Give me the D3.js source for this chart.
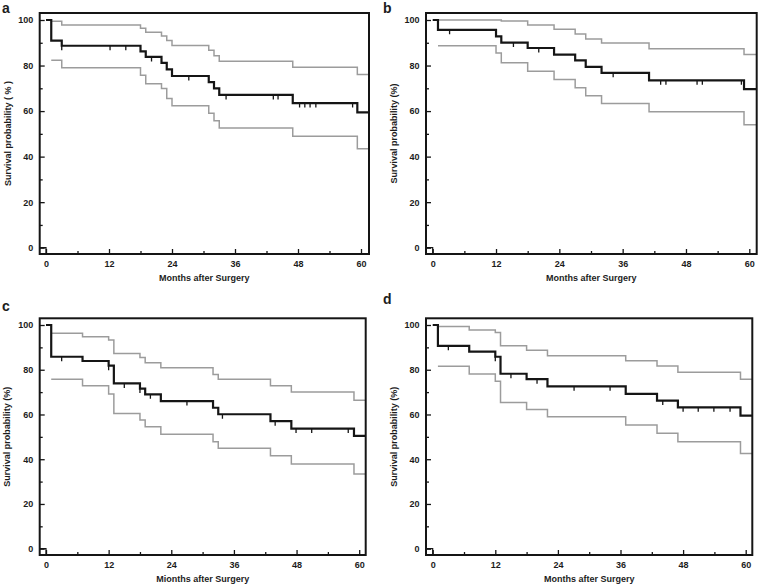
<!DOCTYPE html>
<html><head><meta charset="utf-8">
<script src="https://cdn.jsdelivr.net/npm/d3@7"></script>
<style>
body{margin:0;background:#fff}
svg{display:block}
text{font-family:"Liberation Sans",Arial,sans-serif;font-weight:bold;fill:#1c1c1c}
</style>
</head><body>
<svg id="chart" width="760" height="586"></svg>
<script>
// ---- tick labels / categories ----
const xTicks = [0, 12, 24, 36, 48, 60];
const xMinor = [6, 18, 30, 42, 54];
const yTicks = [0, 20, 40, 60, 80, 100];
const yMinor = [10, 30, 50, 70, 90];
const panelLetters = ["a", "b", "c", "d"];
const xTitles = ["Months after Surgery", "Months after Surgery", "Mionths after Surgery", "Months after Surgery"];
const yTitles = ["Survival probability ( % )", "Survival probability (%)", "Survival probability (%)", "Survival probability (%)"];

// ---- panel a ----
const aTimes  = [0, 1, 3, 18, 19, 22, 23, 24, 31, 32, 33, 47, 59.3];
const aSurv   = [100, 90.9, 88.7, 86.2, 83.8, 81.2, 78.3, 75.4, 72.7, 70.0, 67.1, 63.5, 59.4];
const aUpper  = [null, 99.4, 97.8, 96.4, 94.6, 93.0, 91.0, 88.8, 86.7, 84.3, 81.9, 79.3, 76.1];
const aLower  = [null, 82.3, 79.0, 75.7, 72.0, 69.9, 65.5, 62.3, 59.0, 55.8, 52.6, 49.0, 43.5];
const aCensor = [3, 12.2, 15.2, 20.1, 27.2, 34.3, 43.3, 44.2, 48.3, 49.3, 50.3, 51.4, 58.4];

// ---- panel b ----
const bTimes  = [0, 1, 12, 13, 18, 23, 27, 29, 32, 41, 59];
const bSurv   = [100, 95.7, 92.8, 90.1, 87.7, 84.8, 82.3, 79.4, 76.8, 73.5, 69.6];
const bUpper  = [null, 100, 100, 99.6, 97.8, 95.9, 93.9, 91.7, 89.9, 87.4, 84.8];
const bLower  = [null, 88.7, 85.5, 81.2, 77.5, 73.9, 70.3, 66.7, 63.3, 59.7, 54.0];
const bCensor = [3.2, 15.3, 20.1, 34.2, 43.2, 44.2, 50.1, 51.1, 58.5];

// ---- panel c ----
const cTimes  = [0, 1, 7, 12, 13, 18, 19, 22, 32, 33, 43, 47, 59];
const cSurv   = [100, 85.8, 83.9, 81.8, 73.9, 71.6, 69.0, 66.0, 63.0, 60.1, 57.0, 53.7, 50.4];
const cUpper  = [null, 96.3, 94.8, 93.3, 87.3, 85.5, 83.1, 80.9, 77.9, 75.8, 72.8, 70.1, 66.4];
const cLower  = [null, 75.8, 72.8, 69.1, 60.4, 57.5, 54.5, 51.2, 47.8, 44.9, 41.6, 37.9, 33.4];
const cCensor = [3, 12, 15, 18, 20, 27, 33.8, 43.9, 47.9, 50.9, 57.9];

// ---- panel d ----
const dTimes  = [0, 1, 7, 12, 13, 18, 22, 37, 43, 47, 59];
const dSurv   = [100, 90.7, 88.1, 85.8, 78.2, 75.8, 72.6, 69.2, 66.2, 63.2, 59.5];
const dUpper  = [null, 99.3, 97.8, 96.6, 90.7, 88.7, 86.2, 84.0, 81.7, 78.9, 75.7];
const dLower  = [null, 81.6, 78.1, 74.9, 65.3, 62.2, 59.0, 55.3, 51.6, 47.8, 42.6];
const dCensor = [3, 12, 15, 20, 27.1, 34, 44.1, 48, 50.9, 53.9, 57];

const panelData = [
  {times: aTimes, surv: aSurv, upper: aUpper, lower: aLower, censor: aCensor},
  {times: bTimes, surv: bSurv, upper: bUpper, lower: bLower, censor: bCensor},
  {times: cTimes, surv: cSurv, upper: cUpper, lower: cLower, censor: cCensor},
  {times: dTimes, surv: dSurv, upper: dUpper, lower: dLower, censor: dCensor}
];

// ---- layout (pixels) ----
const layout = [
  {fx1: 39.7, fx2: 369,   fy1: 13,    fy2: 254, x0: 46,    x60: 361,   y0: 247.7, y100: 20,  lx: 2,   ly: 12.5, tx: 10.8, pad: 6.5},
  {fx1: 426,  fx2: 756.7, fy1: 13,    fy2: 254, x0: 432.7, x60: 749.3, y0: 247.7, y100: 20,  lx: 383, ly: 12.5, tx: 396.5, pad: 6.5},
  {fx1: 39.7, fx2: 365.7, fy1: 318.3, fy2: 555, x0: 46,    x60: 359.2, y0: 548.7, y100: 325, lx: 2,   ly: 310.5, tx: 9.6, pad: 7},
  {fx1: 426,  fx2: 752.3, fy1: 318.3, fy2: 555, x0: 432.7, x60: 745.7, y0: 548.7, y100: 325, lx: 383, ly: 304, tx: 396.5, pad: 7}
];

const svg = d3.select("#chart");

layout.forEach((L, i) => {
  const D = panelData[i];
  const x = d3.scaleLinear().domain([0, 60]).range([L.x0, L.x60]);
  const y = d3.scaleLinear().domain([0, 100]).range([L.y0, L.y100]);
  const xEnd = x.invert(L.fx2);
  const g = svg.append("g");

  const clipId = "clip" + i;
  svg.append("clipPath").attr("id", clipId).append("rect")
    .attr("x", L.fx1).attr("y", L.fy1).attr("width", L.fx2 - L.fx1).attr("height", L.fy2 - L.fy1);
  const plot = g.append("g").attr("clip-path", `url(#${clipId})`);

  const line = d3.line().x(p => x(p[0])).y(p => y(p[1])).curve(d3.curveStepAfter);

  function series(vals, startIdx) {
    const pts = [];
    for (let k = startIdx; k < D.times.length; k++) pts.push([D.times[k], vals[k]]);
    pts.push([xEnd, vals[vals.length - 1]]);
    return pts;
  }

  // confidence bands
  [D.upper, D.lower].forEach(v => {
    plot.append("path").attr("d", line(series(v, 1)))
      .attr("fill", "none").attr("stroke", "#9c9c9c").attr("stroke-width", 1.5);
  });

  // survival curve
  plot.append("path").attr("d", line(series(D.surv, 0)))
    .attr("fill", "none").attr("stroke", "#151515").attr("stroke-width", 2.2);

  // censor marks
  const survAt = t => {
    let v = D.surv[0];
    D.times.forEach((tt, k) => { if (tt <= t) v = D.surv[k]; });
    return v;
  };
  plot.selectAll(null).data(D.censor).join("line")
    .attr("x1", c => x(c)).attr("x2", c => x(c))
    .attr("y1", c => y(survAt(c))).attr("y2", c => y(survAt(c)) + 4.5)
    .attr("stroke", "#151515").attr("stroke-width", 1.3);

  // small bracket at zero
  g.append("path")
    .attr("d", `M${L.fx1},${y(0)}H${x(0)}V${L.fy2}`)
    .attr("fill", "none").attr("stroke", "#151515").attr("stroke-width", 1.2);

  // axes
  const xAxis = g.append("g").attr("transform", `translate(0,${L.fy2})`)
    .call(d3.axisBottom(x).tickValues(xTicks).tickSizeInner(-5).tickSizeOuter(0).tickPadding(L.pad));
  const xAxisMinor = g.append("g").attr("transform", `translate(0,${L.fy2})`)
    .call(d3.axisBottom(x).tickValues(xMinor).tickSizeInner(-3).tickSizeOuter(0).tickFormat(""));
  const yAxis = g.append("g").attr("transform", `translate(${L.fx1},0)`)
    .call(d3.axisLeft(y).tickValues(yTicks).tickSizeInner(-5).tickSizeOuter(0).tickPadding(6.5));
  const yAxisMinor = g.append("g").attr("transform", `translate(${L.fx1},0)`)
    .call(d3.axisLeft(y).tickValues(yMinor).tickSizeInner(-3).tickSizeOuter(0).tickFormat(""));
  [xAxis, xAxisMinor, yAxis, yAxisMinor].forEach(a => {
    a.select(".domain").remove();
    a.selectAll(".tick line").attr("stroke", "#151515").attr("stroke-width", 1.3);
    a.selectAll("text").attr("font-size", 9).attr("font-family", '"Liberation Sans",Arial,sans-serif')
      .attr("font-weight", "bold").attr("fill", "#1c1c1c");
  });

  // frame
  g.append("rect")
    .attr("x", L.fx1).attr("y", L.fy1).attr("width", L.fx2 - L.fx1).attr("height", L.fy2 - L.fy1)
    .attr("fill", "none").attr("stroke", "#151515").attr("stroke-width", 2);

  // titles
  g.append("text").attr("x", (L.fx1 + L.fx2) / 2).attr("y", L.fy2 + 26.5)
    .attr("text-anchor", "middle").attr("font-size", 9).text(xTitles[i]);
  g.append("text")
    .attr("transform", `translate(${L.tx},${(L.fy1 + L.fy2) / 2}) rotate(-90)`)
    .attr("text-anchor", "middle").attr("font-size", 9).text(yTitles[i]);
  g.append("text").attr("x", L.lx).attr("y", L.ly)
    .attr("font-size", 14).text(panelLetters[i]);
});
</script>
</body></html>
